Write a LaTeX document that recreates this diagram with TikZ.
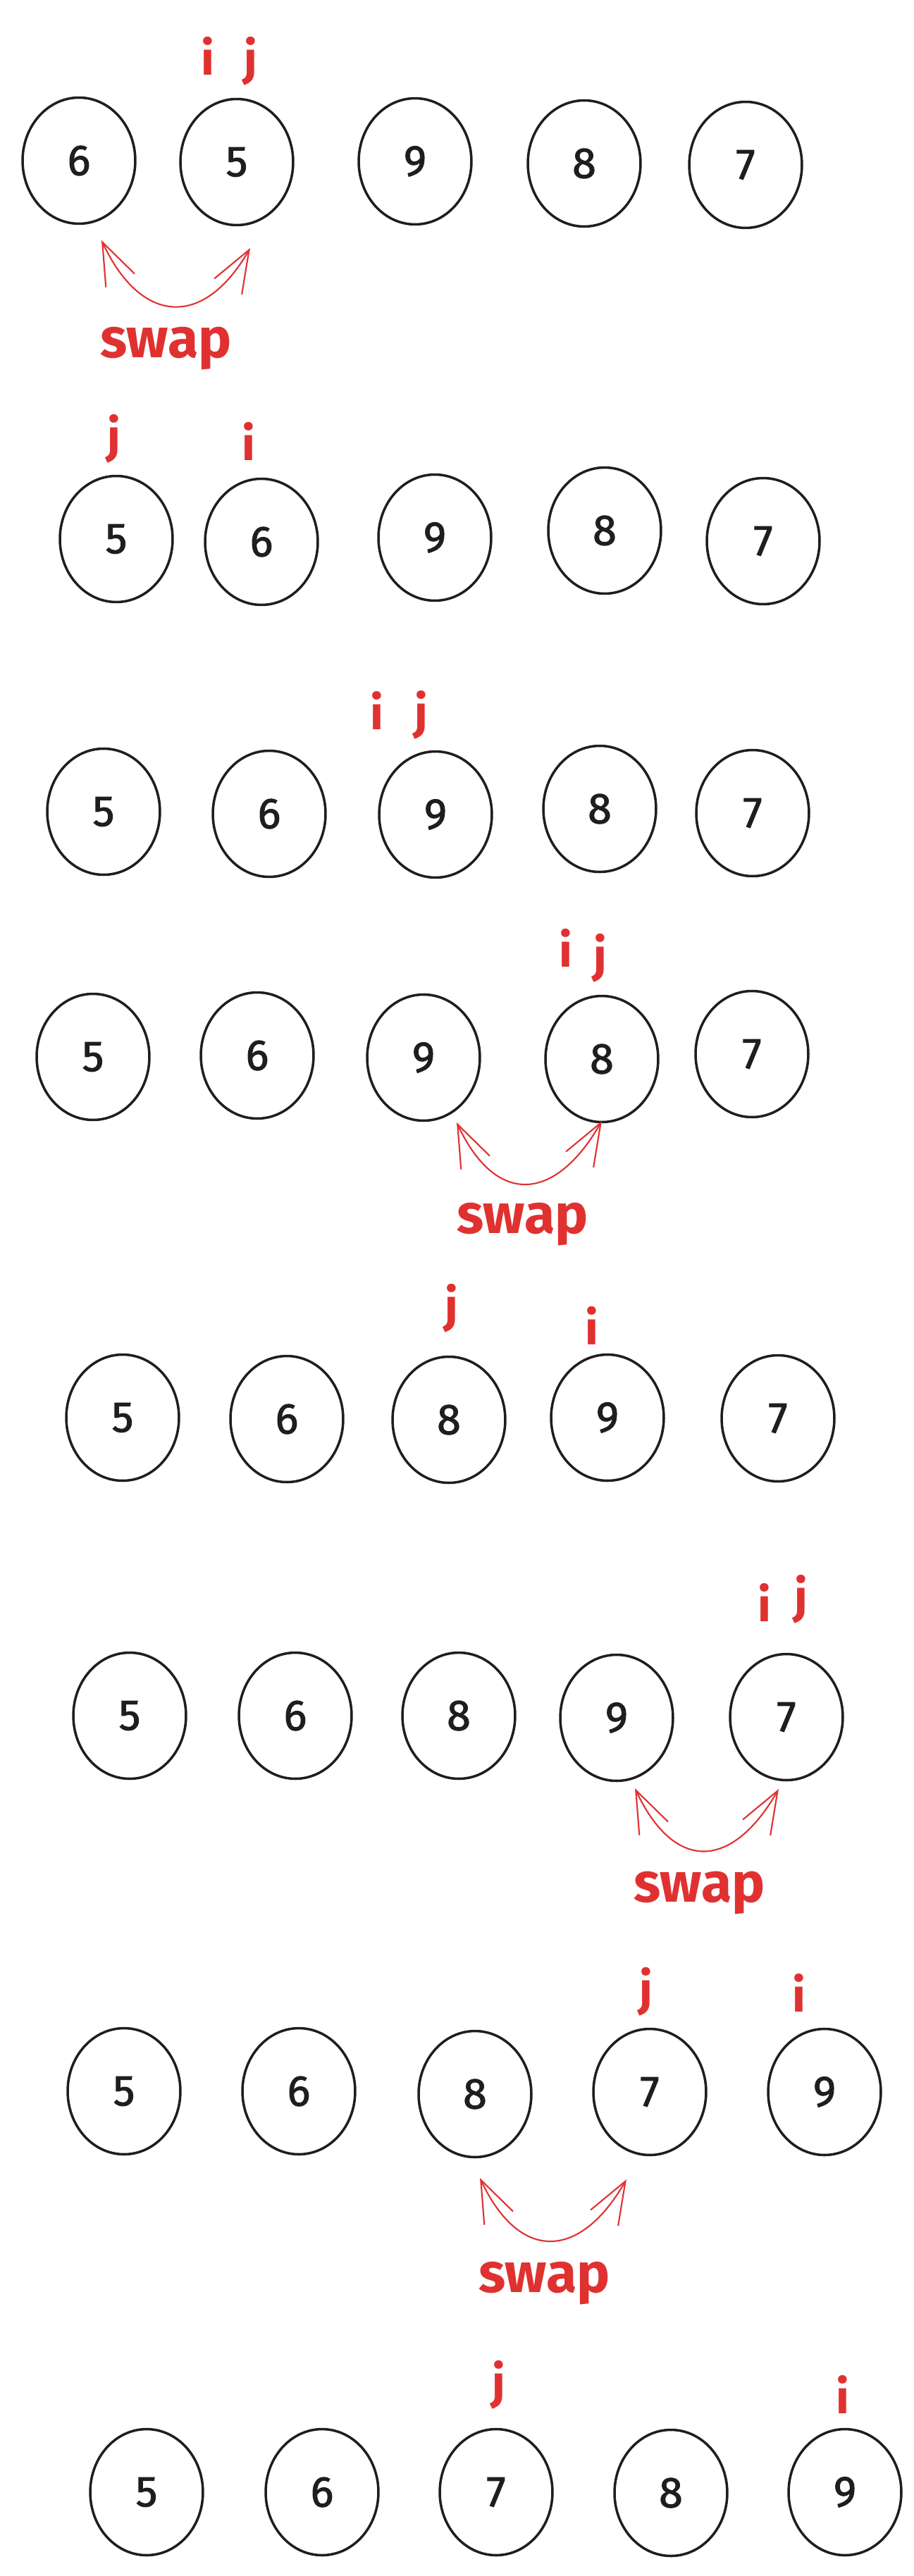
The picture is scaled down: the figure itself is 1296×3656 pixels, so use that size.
\documentclass[tikz,border=0pt]{standalone}
\usepackage{fontspec}
\setmainfont{Fira Sans}
\newfontfamily\digitfont{Fira Sans}[FakeBold=1.6]
\usepackage{tikz}
\usetikzlibrary{shapes.geometric, arrows.meta}
\definecolor{inkdark}{RGB}{30,30,30}
\definecolor{inkred}{RGB}{224,49,49}
\tikzset{
  ball/.style={ellipse,draw=inkdark,line width=2pt,minimum width=3.2cm,minimum height=3.58cm,
    inner sep=0pt,font=\digitfont\fontsize{35}{40}\selectfont,text=inkdark},
  ptr/.style={anchor=base,inner sep=0pt,text=inkred,font=\fontsize{38}{44}\selectfont\bfseries},
  swaplbl/.style={anchor=base west,inner sep=0pt,text=inkred,font=\fontsize{45}{52}\selectfont\bfseries},
  swaparrow/.style={{Straight Barb[length=1.2cm,width=0.9cm]}-{Straight Barb[length=1.2cm,width=0.9cm]},
    line width=1.2pt,color=inkred}
}
\begin{document}
\begin{tikzpicture}[x=0.02cm,y=-0.02cm]
  \useasboundingbox (0,0) rectangle (1296,3656);
  % pass 1: 6 5 9 8 7
  \node[ball] (a1) at (112,228) {6};
  \node[ball] (a2) at (336,230) {5};
  \node[ball] (a3) at (589,229) {9};
  \node[ball] (a4) at (829,232) {8};
  \node[ball] (a5) at (1058,234) {7};
  \node[ptr] (i1) at (295,107) {i};
  \node[ptr] (j1) at (356,107) {j};
  \coordinate (sw1l) at (144,341);
  \coordinate (sw1r) at (355,352);
  \draw[swaparrow] (sw1l) .. controls +(56,120) and +(-66,115) .. (sw1r);
  \node[swaplbl] (sw1) at (142,507) {swap};

  % pass 2
  \node[ball] (b1) at (165,765) {5};
  \node[ball] (b2) at (371,769) {6};
  \node[ball] (b3) at (617,763) {9};
  \node[ball] (b4) at (858,753) {8};
  \node[ball] (b5) at (1083,768) {7};
  \node[ptr] (j2) at (162,642) {j};
  \node[ptr] (i2) at (353,653) {i};

  % pass 3
  \node[ball] (c1) at (147,1152) {5};
  \node[ball] (c2) at (382,1155) {6};
  \node[ball] (c3) at (618,1156) {9};
  \node[ball] (c4) at (851,1148) {8};
  \node[ball] (c5) at (1068,1154) {7};
  \node[ptr] (i3) at (535,1035) {i};
  \node[ptr] (j3) at (598,1034) {j};

  % pass 4
  \node[ball] (d1) at (132,1500) {5};
  \node[ball] (d2) at (365,1498) {6};
  \node[ball] (d3) at (601,1501) {9};
  \node[ball] (d4) at (854,1503) {8};
  \node[ball] (d5) at (1067,1496) {7};
  \node[ptr] (i4) at (803,1372) {i};
  \node[ptr] (j4) at (852,1379) {j};
  \coordinate (sw4l) at (648,1593);
  \coordinate (sw4r) at (854,1591);
  \draw[swaparrow] (sw4l) .. controls +(56,120) and +(-66,115) .. (sw4r);
  \node[swaplbl] (sw4) at (648,1750) {swap};

  % pass 5
  \node[ball] (e1) at (174,2012) {5};
  \node[ball] (e2) at (407,2014) {6};
  \node[ball] (e3) at (637,2015) {8};
  \node[ball] (e4) at (862,2012) {9};
  \node[ball] (e5) at (1104,2013) {7};
  \node[ptr] (j5) at (641,1876) {j};
  \node[ptr] (i5) at (840,1908) {i};

  % pass 6
  \node[ball] (f1) at (184,2435) {5};
  \node[ball] (f2) at (419,2435) {6};
  \node[ball] (f3) at (651,2435) {8};
  \node[ball] (f4) at (875,2438) {9};
  \node[ball] (f5) at (1116,2437) {7};
  \node[ptr] (i6) at (1085,2301) {i};
  \node[ptr] (j6) at (1137,2289) {j};
  \coordinate (sw6l) at (901,2538);
  \coordinate (sw6r) at (1105,2539);
  \draw[swaparrow] (sw6l) .. controls +(56,120) and +(-66,115) .. (sw6r);
  \node[swaplbl] (sw6) at (899,2699) {swap};

  % pass 7
  \node[ball] (g1) at (176,2968) {5};
  \node[ball] (g2) at (424,2968) {6};
  \node[ball] (g3) at (674,2972) {8};
  \node[ball] (g4) at (922,2969) {7};
  \node[ball] (g5) at (1170,2969) {9};
  \node[ptr] (j7) at (917,2846) {j};
  \node[ptr] (i7) at (1134,2855) {i};
  \coordinate (sw7l) at (681,3091);
  \coordinate (sw7r) at (889,3093);
  \draw[swaparrow] (sw7l) .. controls +(56,120) and +(-66,115) .. (sw7r);
  \node[swaplbl] (sw7) at (679,3253) {swap};

  % pass 8
  \node[ball] (h1) at (208,3537) {5};
  \node[ball] (h2) at (457,3537) {6};
  \node[ball] (h3) at (704,3537) {7};
  \node[ball] (h4) at (952,3538) {8};
  \node[ball] (h5) at (1199,3537) {9};
  \node[ptr] (j8) at (708,3404) {j};
  \node[ptr] (i8) at (1196,3425) {i};
\end{tikzpicture}
\end{document}
